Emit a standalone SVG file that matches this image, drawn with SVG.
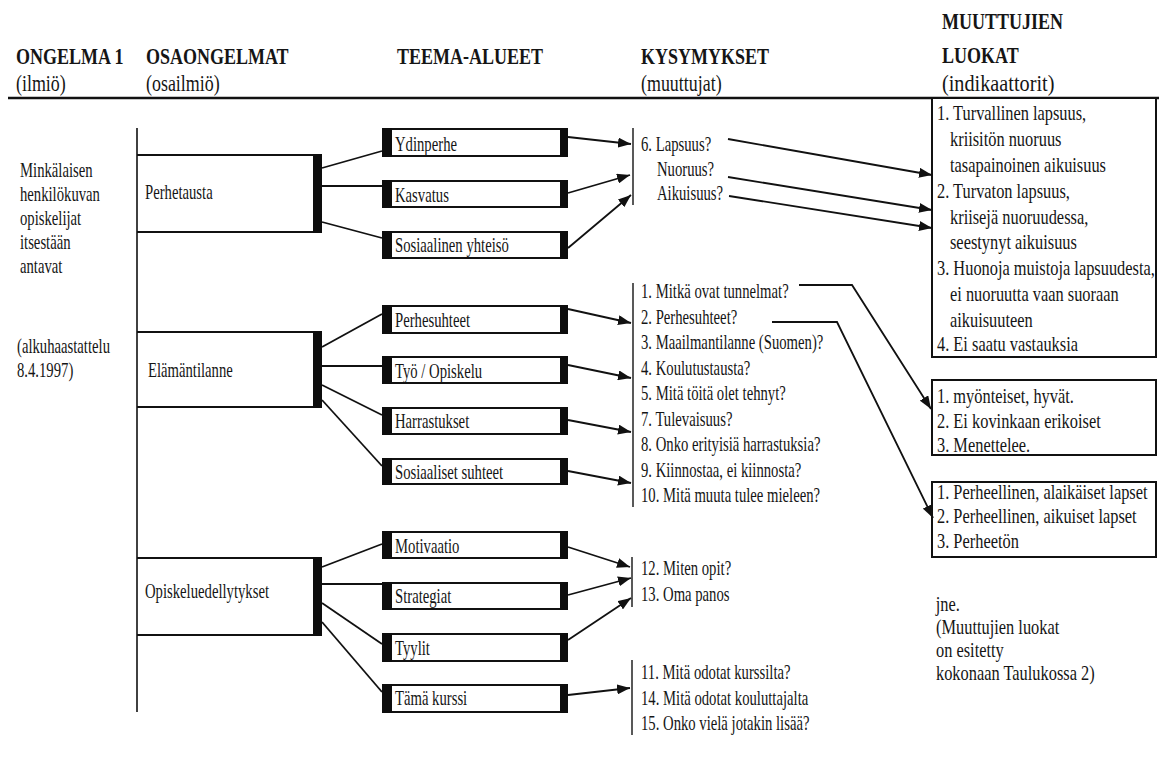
<svg xmlns="http://www.w3.org/2000/svg" width="1159" height="769" viewBox="0 0 1159 769">
<style>
text{font-family:"Liberation Serif","Times New Roman",serif;fill:#151515;transform-box:fill-box;transform-origin:0 0;transform:scaleX(0.7)}
.h{font-size:24px;font-weight:bold;transform:scaleX(0.75)}
.s{font-size:23px;transform:scaleX(0.78)}
.b{font-size:21px}
.r{font-size:21px;transform:scaleX(0.78)}
.si{font-size:23px;transform:scaleX(0.88)}
.ln{stroke:#111;stroke-width:1.8;fill:none}
.arr{marker-end:url(#ah)}
.tb{fill:#fff;stroke:#111;stroke-width:2}
.bar{fill:#0d0d0d}
.spine{stroke:#111;stroke-width:1.6}
.vq{stroke:#222;stroke-width:1.5}
</style>
<defs>
<marker id="ah" markerUnits="userSpaceOnUse" markerWidth="13" markerHeight="10" refX="13" refY="5" orient="auto">
<path d="M0,0 L13,5 L0,10 z" fill="#111"/>
</marker>
</defs>
<rect width="1159" height="769" fill="#fff"/>

<g id="header">
<text class="h" x="16" y="64">ONGELMA 1</text>
<text class="s" x="16" y="91">(ilmiö)</text>
<text class="h" x="146" y="64">OSAONGELMAT</text>
<text class="s" x="146" y="91">(osailmiö)</text>
<text class="h" x="397" y="64">TEEMA-ALUEET</text>
<text class="h" x="641" y="64">KYSYMYKSET</text>
<text class="s" x="641" y="91">(muuttujat)</text>
<text class="h" x="942" y="29">MUUTTUJIEN</text>
<text class="h" x="942" y="63">LUOKAT</text>
<text class="si" x="942" y="91">(indikaattorit)</text>
<line x1="8" y1="98" x2="1159" y2="98" stroke="#111" stroke-width="2.5"/>
</g>

<g id="ongelma">
<text class="b" x="20" y="177">Minkälaisen</text>
<text class="b" x="20" y="201">henkilökuvan</text>
<text class="b" x="20" y="225">opiskelijat</text>
<text class="b" x="20" y="249">itsestään</text>
<text class="b" x="20" y="273">antavat</text>
<text class="b" x="17" y="353">(alkuhaastattelu</text>
<text class="b" x="17" y="377">8.4.1997)</text>
<line class="spine" x1="137" y1="128" x2="137" y2="712"/>
</g>

<g id="o-perhetausta">
<path class="ln" d="M137,155 H315 M137,232 H315" stroke-width="2"/>
<rect class="bar" x="313" y="154" width="9" height="79"/>
<text class="b" x="145" y="199">Perhetausta</text>
</g>
<g id="o-elamantilanne">
<path class="ln" d="M137,332 H315 M137,407 H315" stroke-width="2"/>
<rect class="bar" x="313" y="331" width="9" height="77"/>
<text class="b" x="148" y="377">Elämäntilanne</text>
</g>
<g id="o-opiskeluedellytykset">
<path class="ln" d="M137,558 H315 M137,635 H315" stroke-width="2"/>
<rect class="bar" x="313" y="557" width="9" height="79"/>
<text class="b" x="145" y="598">Opiskeluedellytykset</text>
</g>

<g id="t-ydinperhe"><rect class="tb" x="383" y="129" width="184" height="27"/><rect class="bar" x="382" y="128" width="10" height="29"/><rect class="bar" x="560" y="128" width="8" height="29"/><text class="b" x="395" y="151">Ydinperhe</text></g>
<g id="t-kasvatus"><rect class="tb" x="383" y="181" width="184" height="26"/><rect class="bar" x="382" y="180" width="10" height="28"/><rect class="bar" x="560" y="180" width="8" height="28"/><text class="b" x="395" y="202">Kasvatus</text></g>
<g id="t-sosiaalinen"><rect class="tb" x="383" y="232" width="184" height="26"/><rect class="bar" x="382" y="231" width="10" height="28"/><rect class="bar" x="560" y="231" width="8" height="28"/><text class="b" x="395" y="252">Sosiaalinen yhteisö</text></g>
<g id="t-perhesuhteet"><rect class="tb" x="383" y="306" width="184" height="27"/><rect class="bar" x="382" y="305" width="10" height="29"/><rect class="bar" x="560" y="305" width="8" height="29"/><text class="b" x="395" y="327">Perhesuhteet</text></g>
<g id="t-tyo"><rect class="tb" x="383" y="357" width="184" height="26"/><rect class="bar" x="382" y="356" width="10" height="28"/><rect class="bar" x="560" y="356" width="8" height="28"/><text class="b" x="395" y="378">Työ / Opiskelu</text></g>
<g id="t-harrastukset"><rect class="tb" x="383" y="408" width="184" height="26"/><rect class="bar" x="382" y="407" width="10" height="28"/><rect class="bar" x="560" y="407" width="8" height="28"/><text class="b" x="395" y="428">Harrastukset</text></g>
<g id="t-sosiaaliset"><rect class="tb" x="383" y="459" width="184" height="25"/><rect class="bar" x="382" y="458" width="10" height="27"/><rect class="bar" x="560" y="458" width="8" height="27"/><text class="b" x="395" y="479">Sosiaaliset suhteet</text></g>
<g id="t-motivaatio"><rect class="tb" x="383" y="532" width="184" height="26"/><rect class="bar" x="382" y="531" width="10" height="28"/><rect class="bar" x="560" y="531" width="8" height="28"/><text class="b" x="395" y="553">Motivaatio</text></g>
<g id="t-strategiat"><rect class="tb" x="383" y="583" width="184" height="26"/><rect class="bar" x="382" y="582" width="10" height="28"/><rect class="bar" x="560" y="582" width="8" height="28"/><text class="b" x="395" y="603">Strategiat</text></g>
<g id="t-tyylit"><rect class="tb" x="383" y="634" width="184" height="27"/><rect class="bar" x="382" y="633" width="10" height="29"/><rect class="bar" x="560" y="633" width="8" height="29"/><text class="b" x="395" y="655">Tyylit</text></g>
<g id="t-kurssi"><rect class="tb" x="383" y="685" width="184" height="27"/><rect class="bar" x="382" y="684" width="10" height="29"/><rect class="bar" x="560" y="684" width="8" height="29"/><text class="b" x="395" y="705">Tämä kurssi</text></g>

<g id="q-elamanvaiheet">
<line class="vq" x1="633" y1="128" x2="633" y2="205"/>
<text class="b" x="641" y="151">6. Lapsuus?</text>
<text class="b" x="657" y="176">Nuoruus?</text>
<text class="b" x="657" y="200">Aikuisuus?</text>
</g>
<g id="q-elamantilanne">
<line class="vq" x1="633" y1="283" x2="633" y2="507"/>
<text class="b" x="641" y="298">1. Mitkä ovat tunnelmat?</text>
<text class="b" x="641" y="324">2. Perhesuhteet?</text>
<text class="b" x="641" y="349">3. Maailmantilanne (Suomen)?</text>
<text class="b" x="641" y="375">4. Koulutustausta?</text>
<text class="b" x="641" y="400">5. Mitä töitä olet tehnyt?</text>
<text class="b" x="641" y="426">7. Tulevaisuus?</text>
<text class="b" x="641" y="451">8. Onko erityisiä harrastuksia?</text>
<text class="b" x="641" y="477">9. Kiinnostaa, ei kiinnosta?</text>
<text class="b" x="641" y="502">10. Mitä muuta tulee mieleen?</text>
</g>
<g id="q-oppiminen">
<line class="vq" x1="632" y1="557" x2="632" y2="607"/>
<text class="b" x="641" y="575">12. Miten opit?</text>
<text class="b" x="641" y="601">13. Oma panos</text>
</g>
<g id="q-kurssi">
<line class="vq" x1="632" y1="660" x2="632" y2="735"/>
<text class="b" x="641" y="679">11. Mitä odotat kurssilta?</text>
<text class="b" x="641" y="705">14. Mitä odotat kouluttajalta</text>
<text class="b" x="641" y="730">15. Onko vielä jotakin lisää?</text>
</g>

<g id="c-elamanvaiheet">
<rect class="tb" x="932" y="98" width="224" height="259"/>
<text class="r" x="937" y="120">1. Turvallinen lapsuus,</text>
<text class="r" x="950" y="146">kriisitön nuoruus</text>
<text class="r" x="950" y="172">tasapainoinen aikuisuus</text>
<text class="r" x="937" y="198">2. Turvaton lapsuus,</text>
<text class="r" x="950" y="224">kriisejä nuoruudessa,</text>
<text class="r" x="950" y="249">seestynyt aikuisuus</text>
<text class="r" x="937" y="275">3. Huonoja muistoja lapsuudesta,</text>
<text class="r" x="950" y="301">ei nuoruutta vaan suoraan</text>
<text class="r" x="950" y="327">aikuisuuteen</text>
<text class="r" x="937" y="351">4. Ei saatu vastauksia</text>
</g>
<g id="c-tunnelmat">
<rect class="tb" x="932" y="380" width="224" height="75"/>
<text class="r" x="937" y="403">1. myönteiset, hyvät.</text>
<text class="r" x="937" y="428">2. Ei kovinkaan erikoiset</text>
<text class="r" x="937" y="452">3. Menettelee.</text>
</g>
<g id="c-perhesuhteet">
<rect class="tb" x="932" y="482" width="224" height="75"/>
<text class="r" x="937" y="499">1. Perheellinen, alaikäiset lapset</text>
<text class="r" x="937" y="523">2. Perheellinen, aikuiset lapset</text>
<text class="r" x="937" y="548">3. Perheetön</text>
</g>
<g id="note">
<text class="r" x="936" y="611">jne.</text>
<text class="r" x="936" y="634">(Muuttujien luokat</text>
<text class="r" x="936" y="657">on esitetty</text>
<text class="r" x="936" y="680">kokonaan  Taulukossa 2)</text>
</g>

<g id="connectors">
<path class="ln" d="M322,168 L382,151"/>
<path class="ln" d="M322,186 L382,186"/>
<path class="ln" d="M322,222 L382,238"/>
<path class="ln" d="M322,347 L382,314"/>
<path class="ln" d="M322,366 L382,366"/>
<path class="ln" d="M322,385 L382,415"/>
<path class="ln" d="M322,400 L382,466"/>
<path class="ln" d="M322,567 L382,544"/>
<path class="ln" d="M322,584 L382,584"/>
<path class="ln" d="M322,603 L382,644"/>
<path class="ln" d="M322,622 L382,692"/>

<path class="ln arr" d="M568,137 L631,144"/>
<path class="ln arr" d="M568,193 L630,175"/>
<path class="ln arr" d="M568,248 L631,195"/>
<path class="ln arr" d="M568,309 L631,323"/>
<path class="ln arr" d="M568,365 L631,378"/>
<path class="ln arr" d="M568,420 L631,432"/>
<path class="ln arr" d="M568,471 L631,483"/>
<path class="ln arr" d="M568,547 L630,567"/>
<path class="ln arr" d="M568,595 L631,578"/>
<path class="ln arr" d="M568,640 L631,598"/>
<path class="ln arr" d="M568,695 L630,688"/>

<path class="ln arr" d="M728,139 L932,175"/>
<path class="ln arr" d="M728,177 L932,210"/>
<path class="ln arr" d="M729,196 L932,228"/>
<path class="ln arr" d="M799,285 L852,285 L931,409"/>
<path class="ln arr" d="M772,322 L837,322 L933,518"/>
</g>
</svg>
